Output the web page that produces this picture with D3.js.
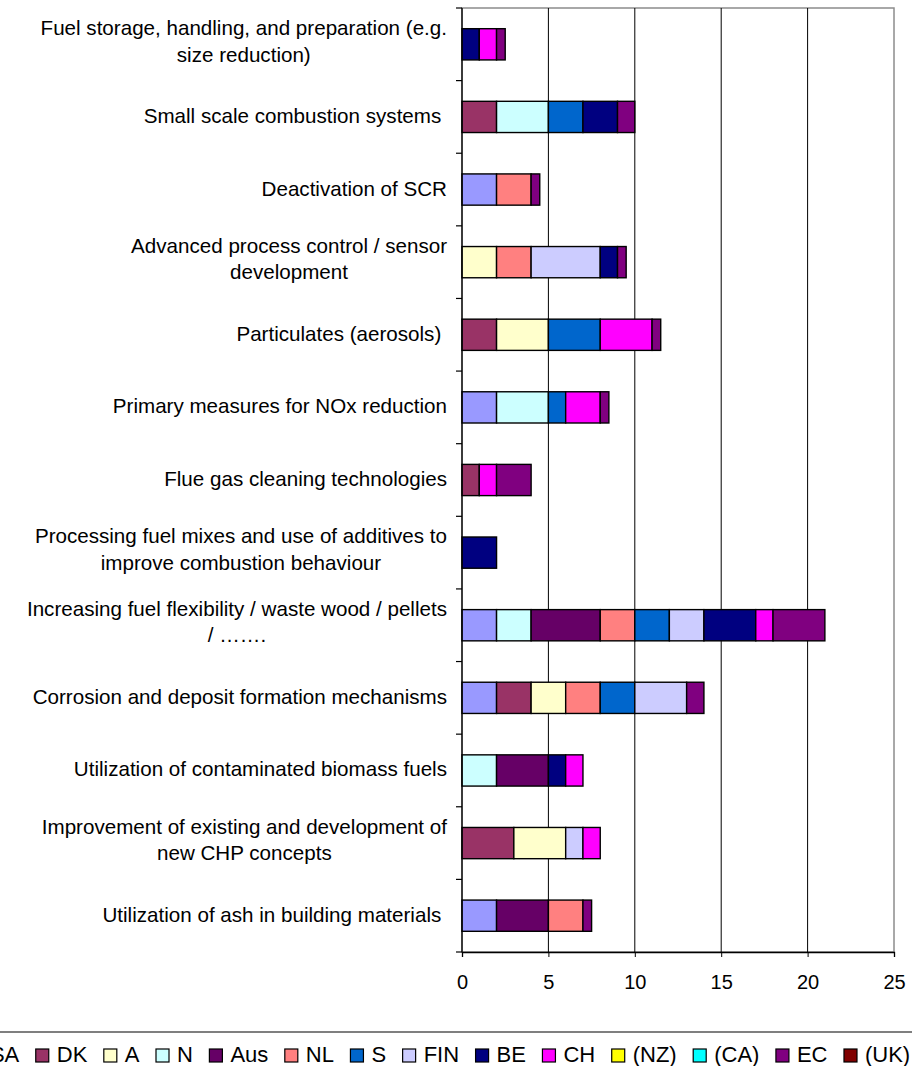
<!DOCTYPE html>
<html>
<head>
<meta charset="utf-8">
<script src="https://cdn.jsdelivr.net/npm/d3@7"></script>
<style>
  body { margin: 0; background: #fff; }
  svg { display: block; font-family: "Liberation Sans", Arial, sans-serif; }
</style>
</head>
<body>
<svg id="chart"></svg>
<script>
// Research topics (top to bottom) and country contributions, stacked horizontally
const categories = [
  ["Fuel storage, handling, and preparation (e.g.", "size reduction)"],
  ["Small scale combustion systems\u00a0"],
  ["Deactivation of SCR"],
  ["Advanced process control / sensor", "development"],
  ["Particulates (aerosols)\u00a0"],
  ["Primary measures for NOx reduction"],
  ["Flue gas cleaning technologies"],
  ["Processing fuel mixes and use of additives to", "improve combustion behaviour"],
  ["Increasing fuel flexibility / waste wood / pellets", "/ \u2026\u2026."],
  ["Corrosion and deposit formation mechanisms"],
  ["Utilization of contaminated biomass fuels"],
  ["Improvement of existing and development of", "new CHP concepts"],
  ["Utilization of ash in building materials\u00a0"]
];

const seriesNames = ["USA", "DK", "A", "N", "Aus", "NL", "S", "FIN", "BE", "CH", "(NZ)", "(CA)", "EC", "(UK)"];
const seriesColors = ["#9999FF", "#993366", "#FFFFCC", "#CCFFFF", "#660066", "#FF8080", "#0066CC",
                      "#CCCCFF", "#000080", "#FF00FF", "#FFFF00", "#00FFFF", "#800080", "#800000"];

const USA  = [0, 0, 2, 0, 0, 2, 0, 0, 2, 2, 0, 0, 2];
const DK   = [0, 2, 0, 0, 2, 0, 1, 0, 0, 2, 0, 3, 0];
const A    = [0, 0, 0, 2, 3, 0, 0, 0, 0, 2, 0, 3, 0];
const N    = [0, 3, 0, 0, 0, 3, 0, 0, 2, 0, 2, 0, 0];
const Aus  = [0, 0, 0, 0, 0, 0, 0, 0, 4, 0, 3, 0, 3];
const NL   = [0, 0, 2, 2, 0, 0, 0, 0, 2, 2, 0, 0, 2];
const S    = [0, 2, 0, 0, 3, 1, 0, 0, 2, 2, 0, 0, 0];
const FIN  = [0, 0, 0, 4, 0, 0, 0, 0, 2, 3, 0, 1, 0];
const BE   = [1, 2, 0, 1, 0, 0, 0, 2, 3, 0, 1, 0, 0];
const CH   = [1, 0, 0, 0, 3, 2, 1, 0, 1, 0, 1, 1, 0];
const NZ   = [0, 0, 0, 0, 0, 0, 0, 0, 0, 0, 0, 0, 0];
const CA   = [0, 0, 0, 0, 0, 0, 0, 0, 0, 0, 0, 0, 0];
const EC   = [0.5, 1, 0.5, 0.5, 0.5, 0.5, 2, 0, 3, 1, 0, 0, 0.5];
const UK   = [0, 0, 0, 0, 0, 0, 0, 0, 0, 0, 0, 0, 0];

const seriesValues = [USA, DK, A, N, Aus, NL, S, FIN, BE, CH, NZ, CA, EC, UK];
const xTicks = [0, 5, 10, 15, 20, 25];

const W = 912, H = 1066;
const plot = {left: 462, right: 894, top: 8, bottom: 952};

const svg = d3.select('#chart').attr('width', W).attr('height', H);

// build rows for the stack
const rows = categories.map((c, i) => {
  const r = {idx: i};
  seriesNames.forEach((s, j) => { r[s] = seriesValues[j][i]; });
  return r;
});
const stacked = d3.stack().keys(seriesNames)(rows);

const x = d3.scaleLinear().domain([0, 25]).range([plot.left, plot.right]);
const y = d3.scaleBand()
  .domain(d3.range(categories.length))
  .range([plot.top, plot.bottom])
  .paddingInner(0.57)
  .paddingOuter(0.285);
const color = d3.scaleOrdinal().domain(seriesNames).range(seriesColors);

// plot frame (grey)
svg.append('rect')
  .attr('x', plot.left).attr('y', plot.top)
  .attr('width', plot.right - plot.left).attr('height', plot.bottom - plot.top)
  .attr('fill', 'none').attr('stroke', '#8c8c8c').attr('stroke-width', 1.5);

// vertical gridlines
svg.append('g')
  .selectAll('line')
  .data(xTicks.slice(1, -1))
  .enter().append('line')
  .attr('x1', d => x(d)).attr('x2', d => x(d))
  .attr('y1', plot.top).attr('y2', plot.bottom)
  .attr('stroke', '#000').attr('stroke-width', 1);

// bars
svg.append('g')
  .selectAll('g')
  .data(stacked)
  .enter().append('g')
  .attr('fill', d => color(d.key))
  .selectAll('rect')
  .data(d => d.filter(p => p[1] - p[0] > 0))
  .enter().append('rect')
  .attr('x', d => x(d[0]))
  .attr('y', d => y(d.data.idx))
  .attr('width', d => x(d[1]) - x(d[0]))
  .attr('height', y.bandwidth())
  .attr('stroke', '#000')
  .attr('stroke-width', 1.4);

// bottom axis
const xAxis = svg.append('g')
  .attr('transform', `translate(0,${plot.bottom})`)
  .call(d3.axisBottom(x).tickValues(xTicks).tickSize(5).tickPadding(18));
xAxis.select('.domain').attr('stroke', '#000').attr('stroke-width', 1.3);
xAxis.selectAll('.tick line').attr('stroke', '#000');
xAxis.selectAll('text')
  .style('font-size', '20px')
  .attr('fill', '#000')
  .attr('font-family', '"Liberation Sans", Arial, sans-serif');

// left axis with ticks at category boundaries
svg.append('line')
  .attr('x1', plot.left).attr('x2', plot.left)
  .attr('y1', plot.top).attr('y2', plot.bottom)
  .attr('stroke', '#000').attr('stroke-width', 1.3);
const step = y.step();
svg.append('g')
  .selectAll('line')
  .data(d3.range(categories.length + 1))
  .enter().append('line')
  .attr('x1', plot.left - 6).attr('x2', plot.left)
  .attr('y1', d => plot.top + d * step).attr('y2', d => plot.top + d * step)
  .attr('stroke', '#000').attr('stroke-width', 1.2);

// category labels: block right-aligned, lines centred within block
const lineH = 26.5;
const labelRight = 447;
categories.forEach((lines, i) => {
  const cy = y(i) + y.bandwidth() / 2;
  const g = svg.append('g');
  const texts = lines.map((t, k) => g.append('text')
    .attr('text-anchor', 'middle')
    .attr('y', cy + 6 + (k - (lines.length - 1) / 2) * lineH - (lines.length > 1 ? 2 : 0))
    .style('font-size', '20.6px')
    .attr('fill', '#000')
    .text(t));
  const maxW = d3.max(texts, t => t.node().getComputedTextLength());
  texts.forEach(t => t.attr('x', labelRight - maxW / 2));
});

// legend (bottom, runs off the left edge like the original)
svg.append('rect')
  .attr('x', -80).attr('y', 1032)
  .attr('width', W + 160).attr('height', 80)
  .attr('fill', 'none').attr('stroke', '#555').attr('stroke-width', 1.5);

const legend = svg.append('g');
let lx = -47;
seriesNames.forEach((s, i) => {
  legend.append('rect')
    .attr('x', lx).attr('y', 1049)
    .attr('width', 13).attr('height', 13)
    .attr('fill', color(s)).attr('stroke', '#000').attr('stroke-width', 1.2);
  const t = legend.append('text')
    .attr('x', lx + 21).attr('y', 1062)
    .style('font-size', '22px')
    .attr('fill', '#000')
    .text(s);
  lx += 21 + t.node().getComputedTextLength() + 16.5;
});
</script>
</body>
</html>
